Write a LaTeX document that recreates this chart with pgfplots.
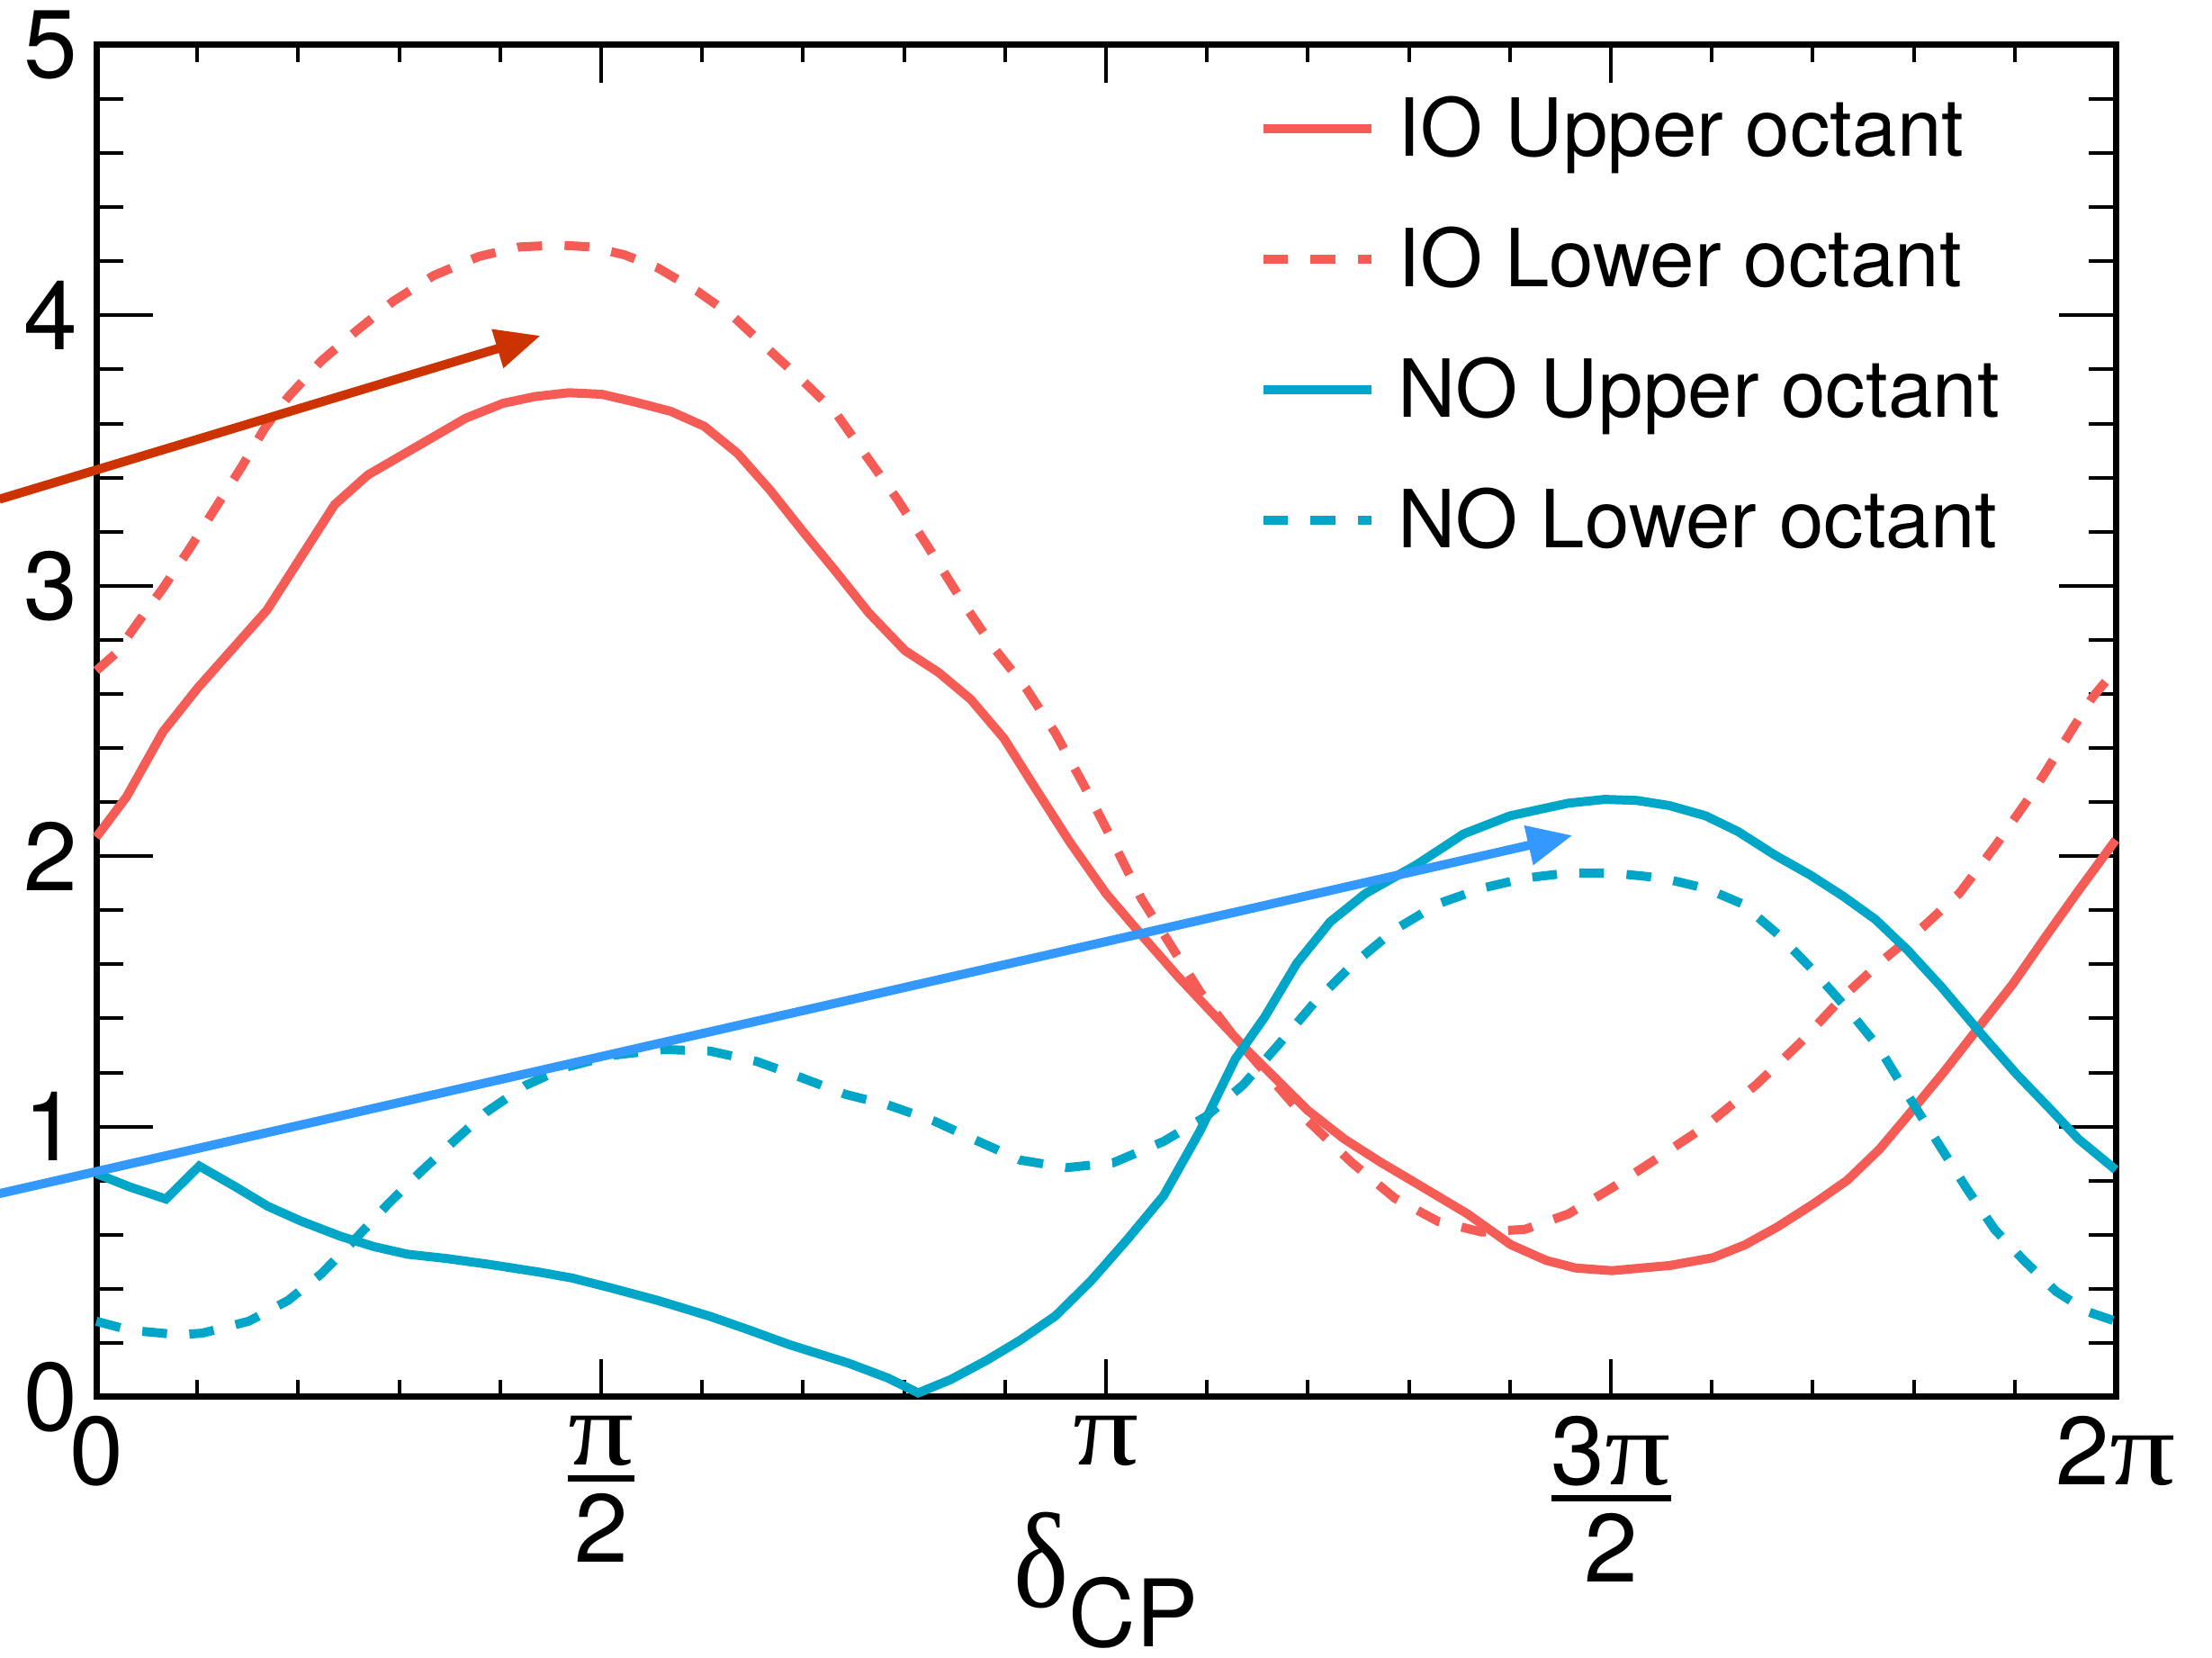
\documentclass[border=0pt]{standalone}
\usepackage{amsmath}
\usepackage{graphicx}
\usepackage{fontspec}
\setmainfont{TeX Gyre Heros}
\newfontfamily\symfont{Liberation Serif}
\newcommand{\PI}{\scalebox{1.35}[1.1]{\symfont π}}
\newcommand{\fr}[1]{$\genfrac{}{}{1.4pt}{1}{\mbox{#1}}{\mbox{\rule{0pt}{16.6pt}2}}$}
\usepackage{pgfplots}
\pgfplotsset{compat=1.18}
\usetikzlibrary{arrows.meta}
\definecolor{ioRed}{HTML}{F55C55}
\definecolor{noCyan}{HTML}{00A6C8}
\definecolor{arrRed}{HTML}{CC3300}
\definecolor{arrBlue}{HTML}{3399FF}
\pgfplotsset{
  base/.style={
    width=448.8pt, height=300.4pt, scale only axis,
    at={(0pt,0pt)}, anchor=south west,
    xmin=0, xmax=2, ymin=0, ymax=5,
    axis line style={line width=1.4pt, black},
    tick style={line width=0.8pt, black},
    tick align=inside,
    clip=false,
  }
}
\begin{document}
\begin{tikzpicture}
\useasboundingbox (-21.4pt,-58pt) rectangle (470.2pt,310.4pt);
% x-axis frame with x ticks
\begin{axis}[base,
  xtick={0,0.5,1,1.5,2},
  minor x tick num=4,
  xtick pos=both,
  major tick length=8.4pt, minor tick length=3.8pt,
  ytick=\empty,
  xticklabels={{0},{\fr{\PI}},{\PI},{\fr{3\PI}},{2\PI}},
  xticklabel style={anchor=north, inner sep=0pt, yshift=-4pt, font=\fontsize{21.5}{24}\selectfont},
  xlabel={{\fontsize{26}{26}\selectfont\scalebox{1.0}[1.16]{\symfont δ}}{\fontsize{20.7}{21}\selectfont\raisebox{-8.9pt}{CP}}},
  xlabel style={at={(axis description cs:0.5,0)}, anchor=north, inner sep=0pt, yshift=-25.4pt},
]
\addplot[draw=none, forget plot] coordinates {(0,0)};
\end{axis}
% data axis with y ticks
\begin{axis}[base,
  xtick=\empty,
  ytick={0,1,2,3,4,5},
  minor y tick num=4,
  ytick pos=both,
  major tick length=12.6pt, minor tick length=6pt,
  yticklabels={0,1,2,3,4,5},
  yticklabel style={anchor=east, inner sep=0pt, xshift=-4pt, font=\fontsize{21.5}{24}\selectfont},
  legend style={at={(axis description cs:0.5756,0.961)}, anchor=north west, draw=none, fill=none,
    inner sep=0pt, outer sep=0pt, font=\fontsize{17.8}{20}\selectfont, row sep=12pt,
    nodes={inner sep=0pt, text height=13pt, text depth=4pt},
    /tikz/every odd column/.append style={column sep=5pt}},
  legend cell align=left,
  legend image code/.code={\draw[#1] (0pt,1.7pt) -- (24pt,1.7pt);},
]
\addplot[ioRed, line width=2pt] coordinates {
(0,2.07) (0.030,2.22) (0.066,2.46) (0.100,2.62) (0.169,2.91) (0.236,3.30) (0.269,3.41)
(0.366,3.62) (0.403,3.675) (0.435,3.70) (0.468,3.714) (0.501,3.708) (0.533,3.68)
(0.569,3.645) (0.602,3.59) (0.635,3.49) (0.667,3.355) (0.700,3.20) (0.733,3.05)
(0.765,2.90) (0.801,2.76) (0.834,2.68) (0.866,2.58) (0.899,2.435) (0.928,2.263)
(0.964,2.053) (1.000,1.862) (1.035,1.709) (1.071,1.556) (1.107,1.413) (1.143,1.270)
(1.200,1.059) (1.236,0.954) (1.272,0.868) (1.315,0.773) (1.358,0.677) (1.401,0.563)
(1.436,0.505) (1.465,0.477) (1.501,0.467) (1.558,0.486) (1.601,0.515) (1.633,0.563)
(1.665,0.629) (1.701,0.715) (1.734,0.801) (1.766,0.916) (1.794,1.040) (1.830,1.203)
(1.862,1.356) (1.898,1.527) (1.930,1.699) (1.963,1.872) (2.000,2.06)};
\addlegendentry{IO Upper octant}
\addplot[ioRed, line width=2pt, dash pattern=on 5.5pt off 5pt] coordinates {
(0,2.686) (0.020,2.752) (0.040,2.858) (0.066,2.991) (0.092,3.135) (0.118,3.288)
(0.144,3.44) (0.167,3.584) (0.190,3.698) (0.223,3.832) (0.259,3.947) (0.294,4.052)
(0.334,4.147) (0.379,4.218) (0.419,4.253) (0.458,4.260) (0.490,4.253) (0.523,4.224)
(0.556,4.176) (0.595,4.09) (0.631,3.995) (0.667,3.870) (0.703,3.746) (0.732,3.641)
(0.761,3.488) (0.794,3.316) (0.827,3.125) (0.859,2.934) (0.889,2.77) (0.921,2.62)
(0.950,2.454) (0.978,2.263) (1.007,2.053) (1.035,1.843) (1.064,1.671) (1.093,1.499)
(1.128,1.327) (1.164,1.174) (1.200,1.021) (1.243,0.868) (1.286,0.735) (1.329,0.649)
(1.372,0.610) (1.415,0.620) (1.458,0.677) (1.501,0.773) (1.544,0.878) (1.594,1.002)
(1.644,1.155) (1.687,1.308) (1.730,1.480) (1.769,1.614) (1.809,1.738) (1.845,1.862)
(1.880,2.034) (1.916,2.225) (1.948,2.416) (1.977,2.588) (2.000,2.69)};
\addlegendentry{IO Lower octant}
\addplot[noCyan, line width=2pt] coordinates {
(0,0.826) (0.033,0.777) (0.069,0.732) (0.102,0.854) (0.138,0.777) (0.170,0.705)
(0.203,0.650) (0.242,0.594) (0.275,0.556) (0.308,0.528) (0.347,0.512) (0.386,0.492)
(0.438,0.462) (0.471,0.440) (0.510,0.403) (0.556,0.357) (0.608,0.298) (0.647,0.247)
(0.686,0.194) (0.745,0.125) (0.784,0.070) (0.814,0.015) (0.846,0.064) (0.882,0.136)
(0.915,0.210) (0.950,0.300) (0.985,0.429) (1.021,0.582) (1.057,0.744) (1.093,0.983)
(1.128,1.250) (1.157,1.404) (1.189,1.604) (1.222,1.757) (1.257,1.862) (1.307,1.967)
(1.354,2.082) (1.400,2.149) (1.458,2.196) (1.494,2.210) (1.526,2.206) (1.558,2.187)
(1.594,2.149) (1.626,2.091) (1.662,2.005) (1.698,1.929) (1.730,1.852) (1.762,1.766)
(1.794,1.652) (1.827,1.518) (1.866,1.346) (1.902,1.193) (1.934,1.069) (1.963,0.954)
(2.000,0.84)};
\addlegendentry{NO Upper octant}
\addplot[noCyan, line width=2pt, dash pattern=on 5.5pt off 5pt] coordinates {
(0,0.28) (0.033,0.247) (0.082,0.230) (0.105,0.236) (0.151,0.280) (0.190,0.357)
(0.223,0.456) (0.255,0.578) (0.288,0.710) (0.321,0.832) (0.353,0.942) (0.386,1.053)
(0.425,1.152) (0.464,1.218) (0.510,1.263) (0.562,1.285) (0.608,1.279) (0.654,1.241)
(0.699,1.180) (0.742,1.119) (0.784,1.080) (0.830,1.020) (0.869,0.953) (0.915,0.876)
(0.961,0.848) (1.007,0.866) (1.057,0.945) (1.100,1.040) (1.136,1.155) (1.172,1.308)
(1.207,1.461) (1.243,1.595) (1.286,1.728) (1.329,1.824) (1.372,1.881) (1.415,1.919)
(1.458,1.938) (1.501,1.938) (1.551,1.919) (1.594,1.881) (1.630,1.824) (1.666,1.709)
(1.701,1.575) (1.737,1.423) (1.766,1.289) (1.794,1.117) (1.823,0.945) (1.852,0.773)
(1.880,0.620) (1.909,0.505) (1.941,0.390) (1.973,0.314) (2.000,0.28)};
\addlegendentry{NO Lower octant}
% arrows
\addplot[arrRed, line width=2pt, -{Triangle[length=10pt,width=8.5pt]}, forget plot]
  coordinates {(-0.096,3.32) (0.440,3.925)};
\addplot[arrBlue, line width=2pt, -{Triangle[length=10pt,width=8.5pt]}, forget plot]
  coordinates {(-0.096,0.752) (1.462,2.077)};
\end{axis}
\end{tikzpicture}
\end{document}
